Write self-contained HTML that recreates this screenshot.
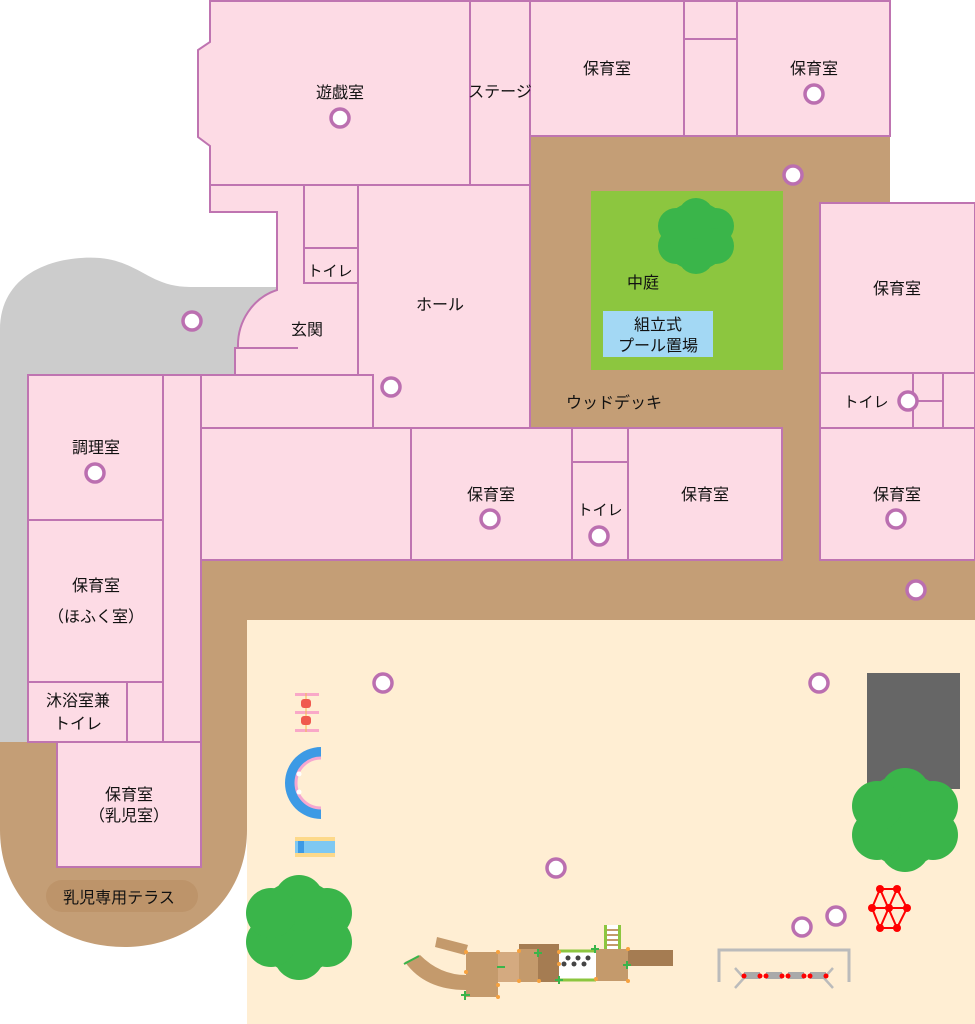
<!DOCTYPE html>
<html><head><meta charset="utf-8"><style>
html,body{margin:0;padding:0;background:#fff}
svg{display:block}
text{font-family:"Liberation Sans","Noto Sans CJK JP",sans-serif;font-size:16px;fill:#111;text-anchor:middle}
.r{fill:#fddbe5;stroke:#bf74b1;stroke-width:2}
.c{fill:#fff;stroke:#bb6fb0;stroke-width:3.5}
.t{fill:#3ab54a}
</style></head><body>
<svg width="975" height="1024" viewBox="0 0 975 1024" xmlns="http://www.w3.org/2000/svg">
<path d="M0,742 L0,330 C0,270 60,255 100,258 C140,262 150,287 190,287 L280,287 L280,375 L240,375 L240,742 Z" fill="#cccccc"/>
<path d="M0,742 L200,742 L200,560 L975,560 L975,620 L247,620 L247,830 C247,900 190,947 125,947 C55,947 0,900 0,830 Z" fill="#c49e76"/>
<rect x="530" y="135" width="360" height="430" fill="#c49e76"/>
<rect x="782" y="200" width="40" height="365" fill="#c49e76"/>
<rect x="247" y="620" width="728" height="404" fill="#ffeed3"/>
<rect x="591" y="191" width="192" height="179" fill="#8cc63f"/>
<g class="t"><circle cx="696" cy="236" r="34"/><circle cx="696" cy="216" r="18"/><circle cx="716" cy="226" r="18"/><circle cx="716" cy="246" r="18"/><circle cx="696" cy="256" r="18"/><circle cx="676" cy="246" r="18"/><circle cx="676" cy="226" r="18"/></g>
<rect x="603" y="311" width="110" height="46" fill="#a3d8f4"/>
<path class="r" d="M210,1 L470,1 L470,185 L210,185 L210,146 L198,137 L198,50 L210,42 Z"/>
<rect class="r" x="470" y="1" width="60" height="184"/>
<rect class="r" x="530" y="1" width="154" height="135"/>
<rect class="r" x="684" y="1" width="53" height="38"/>
<rect class="r" x="684" y="39" width="53" height="97"/>
<rect class="r" x="737" y="1" width="153" height="135"/>
<path class="r" d="M210,185 L358,185 L358,375 L235,375 L235,348 L238,348 A55,58 0 0 1 277,290 L277,212 L210,212 Z"/>
<line x1="235" y1="348" x2="298" y2="348" stroke="#bf74b1" stroke-width="2"/>
<rect class="r" x="304" y="185" width="54" height="63"/>
<rect class="r" x="304" y="248" width="54" height="35"/>
<rect class="r" x="358" y="185" width="172" height="243"/>
<rect class="r" x="201" y="375" width="172" height="53"/>
<rect class="r" x="201" y="428" width="210" height="132"/>
<rect class="r" x="411" y="428" width="161" height="132"/>
<rect class="r" x="572" y="428" width="56" height="34"/>
<rect class="r" x="572" y="462" width="56" height="98"/>
<rect class="r" x="628" y="428" width="154" height="132"/>
<rect class="r" x="163" y="375" width="38" height="367"/>
<rect class="r" x="28" y="375" width="135" height="145"/>
<rect class="r" x="28" y="520" width="135" height="162"/>
<rect class="r" x="28" y="682" width="99" height="60"/>
<rect class="r" x="127" y="682" width="36" height="60"/>
<rect class="r" x="57" y="742" width="144" height="125"/>
<rect class="r" x="820" y="203" width="155" height="170"/>
<rect class="r" x="820" y="373" width="93" height="55"/>
<rect class="r" x="913" y="373" width="30" height="55"/>
<line x1="913" y1="401" x2="943" y2="401" stroke="#bf74b1" stroke-width="2"/>
<rect class="r" x="943" y="373" width="32" height="55"/>
<rect class="r" x="820" y="428" width="155" height="132"/>
<rect x="46" y="880" width="152" height="32" rx="16" fill="#bd946a"/>
<text x="340" y="98">遊戯室</text>
<text x="500" y="97">ステージ</text>
<text x="607" y="74">保育室</text>
<text x="814" y="74">保育室</text>
<text x="330" y="276" style="font-size:15px">トイレ</text>
<text x="307" y="335">玄関</text>
<text x="440" y="310">ホール</text>
<text x="643" y="288">中庭</text>
<text x="658" y="330">組立式</text>
<text x="658" y="351">プール置場</text>
<text x="614" y="408">ウッドデッキ</text>
<text x="897" y="294">保育室</text>
<text x="866" y="407" style="font-size:15px">トイレ</text>
<text x="897" y="500">保育室</text>
<text x="491" y="500">保育室</text>
<text x="600" y="515" style="font-size:15px">トイレ</text>
<text x="705" y="500">保育室</text>
<text x="96" y="453">調理室</text>
<text x="96" y="591">保育室</text>
<text x="96" y="622">（ほふく室）</text>
<text x="78" y="706">沐浴室兼</text>
<text x="78" y="729">トイレ</text>
<text x="129" y="800">保育室</text>
<text x="129" y="821">（乳児室）</text>
<text x="119" y="903">乳児専用テラス</text>
<rect x="867" y="673" width="93" height="116" fill="#666"/>
<g class="t"><circle cx="299" cy="927" r="46"/><circle cx="299" cy="900" r="25"/><circle cx="327" cy="913" r="25"/><circle cx="327" cy="942" r="25"/><circle cx="299" cy="955" r="25"/><circle cx="271" cy="942" r="25"/><circle cx="271" cy="913" r="25"/></g>
<g class="t"><circle cx="905" cy="820" r="46"/><circle cx="905" cy="793" r="25"/><circle cx="933" cy="806" r="25"/><circle cx="933" cy="835" r="25"/><circle cx="905" cy="847" r="25"/><circle cx="877" cy="835" r="25"/><circle cx="877" cy="806" r="25"/></g>
<rect x="295" y="693" width="24" height="3" fill="#f9a8c8"/><rect x="295" y="711" width="24" height="3" fill="#f9a8c8"/><rect x="295" y="729" width="24" height="3" fill="#f9a8c8"/>
<line x1="306" y1="693" x2="306" y2="732" stroke="#f5b84f" stroke-width="1"/>
<rect x="301" y="699" width="10" height="9" rx="3" fill="#f05a4f"/><rect x="301" y="716" width="10" height="9" rx="3" fill="#f05a4f"/>
<path d="M321,747 A36,36 0 0 0 321,819 L321,808 A25,25 0 0 1 321,758 Z" fill="#3d9ae5"/>
<path d="M321,758 A25,25 0 0 0 321,808" fill="none" stroke="#f6a7d0" stroke-width="3"/>
<circle cx="299" cy="774" r="2.5" fill="#fff"/><circle cx="299" cy="792" r="2.5" fill="#fff"/>
<rect x="295" y="837" width="40" height="20" fill="#fdd98a"/><rect x="295" y="841" width="40" height="12" fill="#7ec8f2"/><rect x="298" y="841" width="6" height="12" fill="#3d9ae5"/>
<path d="M405,962 Q425,990 466,990 L466,975 Q440,975 420,955 Z" fill="#c49a6c"/>
<line x1="404" y1="964" x2="419" y2="956" stroke="#3ab54a" stroke-width="2"/>
<polygon points="437,937 468,945 465,955 435,947" fill="#c49a6c"/>
<rect x="466" y="952" width="32" height="45" fill="#c49a6c"/>
<rect x="498" y="952" width="21" height="30" fill="#d4aa80"/>
<rect x="519" y="944" width="19" height="38" fill="#c49a6c"/>
<rect x="519" y="944" width="40" height="5" fill="#a57c52"/>
<rect x="538" y="949" width="21" height="33" fill="#a57c52"/>
<rect x="559" y="951" width="37" height="29" fill="#fff"/>
<line x1="559" y1="951" x2="596" y2="951" stroke="#8cc63f" stroke-width="3"/><line x1="559" y1="980" x2="596" y2="980" stroke="#8cc63f" stroke-width="3"/>
<g fill="#444"><circle cx="568" cy="958" r="2.5"/><circle cx="578" cy="958" r="2.5"/><circle cx="588" cy="958" r="2.5"/><circle cx="564" cy="964" r="2.5"/><circle cx="574" cy="964" r="2.5"/><circle cx="584" cy="964" r="2.5"/></g>
<rect x="596" y="949" width="32" height="32" fill="#c49a6c"/>
<rect x="605" y="925" width="15" height="24" fill="#fff"/><rect x="604" y="925" width="3" height="24" fill="#8cc63f"/><rect x="618" y="925" width="3" height="24" fill="#8cc63f"/>
<g fill="#c49a6c"><rect x="607" y="929" width="11" height="2"/><rect x="607" y="934" width="11" height="2"/><rect x="607" y="939" width="11" height="2"/><rect x="607" y="944" width="11" height="2"/></g>
<rect x="628" y="950" width="45" height="16" fill="#a57c52"/>
<g fill="#f7a23f"><circle cx="466" cy="952" r="2"/><circle cx="498" cy="952" r="2"/><circle cx="466" cy="972" r="2"/><circle cx="498" cy="985" r="2"/><circle cx="498" cy="997" r="2"/><circle cx="519" cy="951" r="2"/><circle cx="519" cy="981" r="2"/><circle cx="539" cy="981" r="2"/><circle cx="559" cy="964" r="2"/><circle cx="559" cy="952" r="2"/><circle cx="596" cy="979" r="2"/><circle cx="628" cy="949" r="2"/><circle cx="628" cy="981" r="2"/></g>
<g stroke="#3ab54a" stroke-width="2"><path d="M465,991v9M461,995h9"/><path d="M497,967h8"/><path d="M538,949v8M534,953h8"/><path d="M559,976v8M555,980h8"/><path d="M595,945v8M591,949h8"/><path d="M627,961v8M623,965h8"/></g>
<path d="M719,982 L719,950 L849,950 L849,982" fill="none" stroke="#bbb" stroke-width="3"/>
<path d="M735,968 L744,978 M735,988 L744,978 M833,968 L824,978 M833,988 L824,978" stroke="#bbb" stroke-width="2.5"/>
<g fill="#aaa"><rect x="744" y="972" width="16" height="7"/><rect x="766" y="972" width="16" height="7"/><rect x="788" y="972" width="16" height="7"/><rect x="810" y="972" width="16" height="7"/></g>
<g fill="#f00"><circle cx="744" cy="976" r="2.5"/><circle cx="760" cy="976" r="2.5"/><circle cx="766" cy="976" r="2.5"/><circle cx="782" cy="976" r="2.5"/><circle cx="788" cy="976" r="2.5"/><circle cx="804" cy="976" r="2.5"/><circle cx="810" cy="976" r="2.5"/><circle cx="826" cy="976" r="2.5"/></g>
<g stroke="#f00" stroke-width="2" fill="none"><polygon points="872,908 880,889 897,889 907,908 897,928 880,928"/><path d="M872,908H907M880,889L897,928M897,889L880,928"/></g>
<g fill="#f00"><circle cx="872" cy="908" r="4"/><circle cx="880" cy="889" r="4"/><circle cx="897" cy="889" r="4"/><circle cx="907" cy="908" r="4"/><circle cx="897" cy="928" r="4"/><circle cx="880" cy="928" r="4"/><circle cx="889" cy="908" r="4"/></g>
<g class="c"><circle cx="340" cy="118" r="9"/><circle cx="814" cy="94" r="9"/><circle cx="793" cy="175" r="9"/><circle cx="192" cy="321" r="9"/><circle cx="391" cy="387" r="9"/><circle cx="95" cy="473" r="9"/><circle cx="908" cy="401" r="9"/><circle cx="490" cy="519" r="9"/><circle cx="599" cy="536" r="9"/><circle cx="896" cy="519" r="9"/><circle cx="916" cy="590" r="9"/><circle cx="383" cy="683" r="9"/><circle cx="819" cy="683" r="9"/><circle cx="556" cy="868" r="9"/><circle cx="836" cy="916" r="9"/><circle cx="802" cy="927" r="9"/></g>
</svg>
</body></html>
